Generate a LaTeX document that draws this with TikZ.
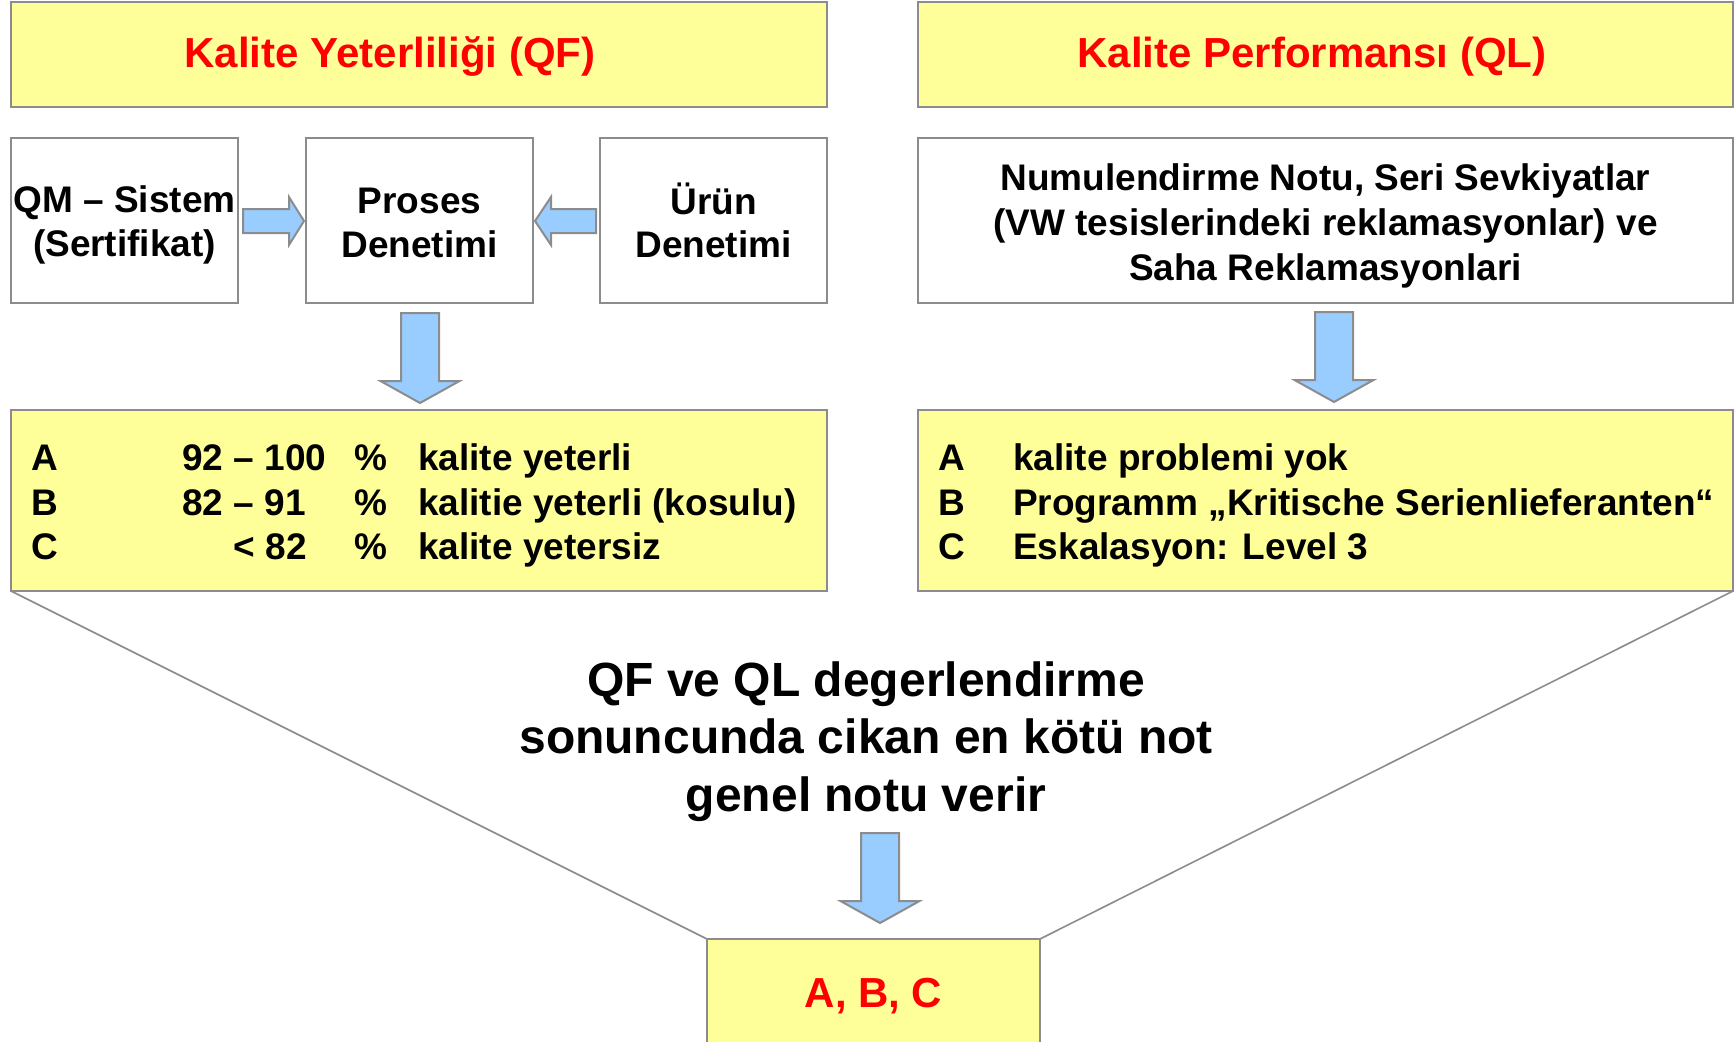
\documentclass[tikz,border=0pt]{standalone}
\usepackage{fontspec}
\setmainfont{Liberation Sans}
\usetikzlibrary{calc}
\definecolor{gborder}{HTML}{8C8C8C}
\definecolor{yfill}{HTML}{FFFF99}
\definecolor{afill}{HTML}{99CCFF}
\definecolor{tred}{HTML}{FF0000}
\tikzset{
  box/.style={draw=gborder, line width=2pt, inner sep=0pt, outer sep=0pt},
  ybox/.style={box, fill=yfill},
  wbox/.style={box, fill=white},
  barrow/.style={draw=gborder, line width=2pt, fill=afill, line join=miter},
  body/.style={font=\fontsize{37}{43.5}\selectfont\bfseries, align=center, inner sep=0pt},
  ttl/.style={font=\fontsize{42}{48}\selectfont\bfseries, text=tred, inner sep=0pt},
  row/.style={font=\fontsize{37}{43}\selectfont\bfseries, inner sep=0pt},
  big/.style={font=\fontsize{48}{57.5}\selectfont\bfseries, align=center, inner sep=0pt},
  pics/darrow/.style={code={\draw[barrow] (-19,0) -- (19,0) -- (19,68) -- (39.5,68) -- (0,90) -- (-39.5,68) -- (-19,68) -- cycle;}},
  pics/rarrow/.style={code={\draw[barrow] (0,-12) -- (46,-12) -- (46,-24) -- (61,0) -- (46,24) -- (46,12) -- (0,12) -- cycle;}},
  pics/larrow/.style={code={\draw[barrow] (0,-12) -- (-45,-12) -- (-45,-24) -- (-61,0) -- (-45,24) -- (-45,12) -- (0,12) -- cycle;}}
}
\begin{document}
\begin{tikzpicture}[x=1pt,y=-1pt]
\useasboundingbox (0,0) rectangle (1734,1041);
% headers
\node[ybox, minimum width=816, minimum height=105] (hdrL) at (419,54.5) {};
\node[ybox, minimum width=815, minimum height=105] (hdrR) at (1325.5,54.5) {};
\node[ttl] (tL) at (390,56.5) {Kalite Yeterliliği (QF)};
\node[ttl] (tR) at (1312,56.5) {Kalite Performansı (QL)};
% second row
\node[wbox, minimum width=227, minimum height=165] (qm) at (124.5,220.5) {};
\node[wbox, minimum width=227, minimum height=165] (pro) at (419.5,220.5) {};
\node[wbox, minimum width=227, minimum height=165] (urun) at (713.5,220.5) {};
\node[wbox, minimum width=815, minimum height=165] (numul) at (1325.5,220.5) {};
\node[body] (qmt) at ($(qm.center)+(0,4.5)$) {QM – Sistem\\(Sertifikat)};
\node[body] (prot) at ($(pro.center)+(0,2.5)$) {Proses\\Denetimi};
\node[body] (urunt) at (urun.center) {Ürün\\Denetimi};
\node[body, font=\fontsize{37}{45}\selectfont\bfseries] (numt) at ($(numul.center)+(0,5.5)$) {Numulendirme Notu, Seri Sevkiyatlar\\(VW tesislerindeki reklamasyonlar) ve\\Saha Reklamasyonlari};
% arrows in second row
\pic (a1) at (243,221) {rarrow};
\pic (a2) at (596,221) {larrow};
\pic (a3) at (420,313) {darrow};
\pic (a4) at (1334,312) {darrow};
% yellow result boxes
\node[ybox, minimum width=816, minimum height=181] (yL) at (419,500.5) {};
\node[ybox, minimum width=815, minimum height=181] (yR) at (1325.5,500.5) {};
% left rows
\node[row, anchor=base west] (la) at (31,470) {A};
\node[row, anchor=base west] (lb) at (31,515) {B};
\node[row, anchor=base west] (lc) at (31,559) {C};
\node[row, anchor=base west] (na) at (182,470) {92 – 100};
\node[row, anchor=base west] (nb) at (182,515) {82 – 91};
\node[row, anchor=base east] (nc) at (307,559) {< 82};
\node[row, anchor=base west] (pa) at (354,470) {\%};
\node[row, anchor=base west] (pb) at (354,515) {\%};
\node[row, anchor=base west] (pc) at (354,559) {\%};
\node[row, anchor=base west] (ta) at (418,470) {kalite yeterli};
\node[row, anchor=base west] (tb) at (418,515) {kalitie yeterli (kosulu)};
\node[row, anchor=base west] (tc) at (418,559) {kalite yetersiz};
% right rows
\node[row, anchor=base west] (ra) at (938,470) {A};
\node[row, anchor=base west] (rb) at (938,515) {B};
\node[row, anchor=base west] (rc) at (938,559) {C};
\node[row, anchor=base west] (rta) at (1013,470) {kalite problemi yok};
\node[row, anchor=base west] (rtb) at (1013,515) {Programm „Kritische Serienlieferanten“};
\node[row, anchor=base west] (rtc) at (1013,559) {Eskalasyon: Level 3};
% conclusion
\node[big] (concl) at (866,741.5) {QF ve QL degerlendirme\\sonuncunda cikan en kötü not\\genel notu verir};
\pic (a5) at (880,833) {darrow};
\node[ybox, minimum width=333, minimum height=113] (bot) at (873.5,995.5) {};
\node[ttl] (abc) at (873.5,996.5) {A, B, C};
\draw[gborder, line width=1.6pt] (yL.south west) -- (bot.north west);
\draw[gborder, line width=1.6pt] (yR.south east) -- (bot.north east);
\end{tikzpicture}
\end{document}
